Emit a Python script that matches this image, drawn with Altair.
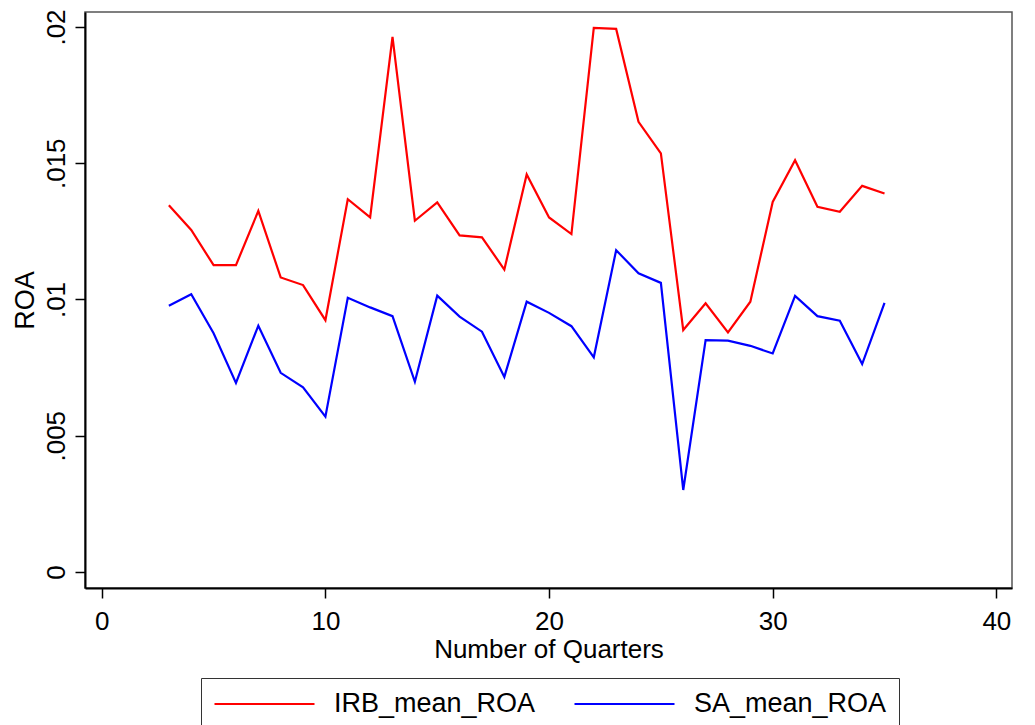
import altair as alt
import pandas as pd

quarters = list(range(3, 36))
irb_mean_roa = [0.01346, 0.01255, 0.01126, 0.01126, 0.01325, 0.01081, 0.01053, 0.00924,
                0.01368, 0.01301, 0.01964, 0.01289, 0.01356, 0.01235, 0.01228, 0.01110,
                0.01459, 0.01301, 0.01240, 0.01997, 0.01993, 0.01652, 0.01536, 0.00888,
                0.00986, 0.00879, 0.00992, 0.01358, 0.01511, 0.01340, 0.01322, 0.01417,
                0.01389]
sa_mean_roa = [0.00977, 0.01019, 0.00876, 0.00694, 0.00904, 0.00731, 0.00678, 0.00570,
               0.01006, 0.00971, 0.00939, 0.00698, 0.01014, 0.00937, 0.00882, 0.00716,
               0.00992, 0.00951, 0.00902, 0.00788, 0.01181, 0.01096, 0.01061, 0.00301,
               0.00851, 0.00849, 0.00830, 0.00802, 0.01013, 0.00939, 0.00922, 0.00763,
               0.00988]
series_names = ["IRB_mean_ROA", "SA_mean_ROA"]
series_colors = ["#ff0000", "#0000ff"]
x_ticks = [0, 10, 20, 30, 40]
y_ticks = [0, 0.005, 0.01, 0.015, 0.02]

df = pd.concat([
    pd.DataFrame({"quarter": quarters, "roa": irb_mean_roa, "series": series_names[0]}),
    pd.DataFrame({"quarter": quarters, "roa": sa_mean_roa, "series": series_names[1]}),
])

FONT = "Liberation Sans"

chart = alt.Chart(df).mark_line(strokeWidth=2.2).encode(
    x=alt.X("quarter:Q",
            scale=alt.Scale(domain=[-0.75, 40.7], nice=False, zero=False),
            axis=alt.Axis(values=x_ticks, title="Number of Quarters", format="d",
                          grid=False, tickSize=10, tickWidth=1.5, tickColor="black",
                          domainColor="black", domainWidth=2,
                          labelFontSize=26, labelPadding=10, labelColor="black",
                          titleFontSize=26, titleFontWeight="normal", titlePadding=2,
                          titleColor="black", labelFont=FONT, titleFont=FONT)),
    y=alt.Y("roa:Q",
            scale=alt.Scale(domain=[-0.000587, 0.02055], nice=False, zero=False),
            axis=alt.Axis(values=y_ticks, title="ROA",
                          labelExpr="datum.value == 0 ? '0' : substring(format(datum.value, '~g'), 1)",
                          grid=False, tickSize=10, tickWidth=1.5, tickColor="black",
                          domainColor="black", domainWidth=2,
                          labelAngle=270, labelAlign="center", labelBaseline="alphabetic",
                          labelFontSize=26, labelPadding=11, labelColor="black",
                          titleFontSize=27, titleFontWeight="normal", titlePadding=4,
                          titleColor="black", labelFont=FONT, titleFont=FONT)),
    color=alt.Color("series:N",
                    scale=alt.Scale(domain=series_names, range=series_colors),
                    legend=alt.Legend(title=None, orient="none", legendX=116, legendY=666,
                                      direction="horizontal", symbolType="stroke",
                                      symbolSize=10000, symbolStrokeWidth=2.2,
                                      clipHeight=28,
                                      labelFontSize=27, labelFont=FONT, labelColor="black",
                                      labelOffset=18, columnPadding=37, padding=12,
                                      labelLimit=400,
                                      strokeColor="#333333", fillColor="white")),
).properties(
    width=927, height=576,
    padding={"left": 85, "top": 12, "right": 23, "bottom": 137},
    autosize=alt.AutoSizeParams(type="none"),
    background="white",
).configure_view(stroke="#555555", strokeWidth=1.5)

chart.save("out.html", embed_options={"renderer": "svg", "actions": False})
